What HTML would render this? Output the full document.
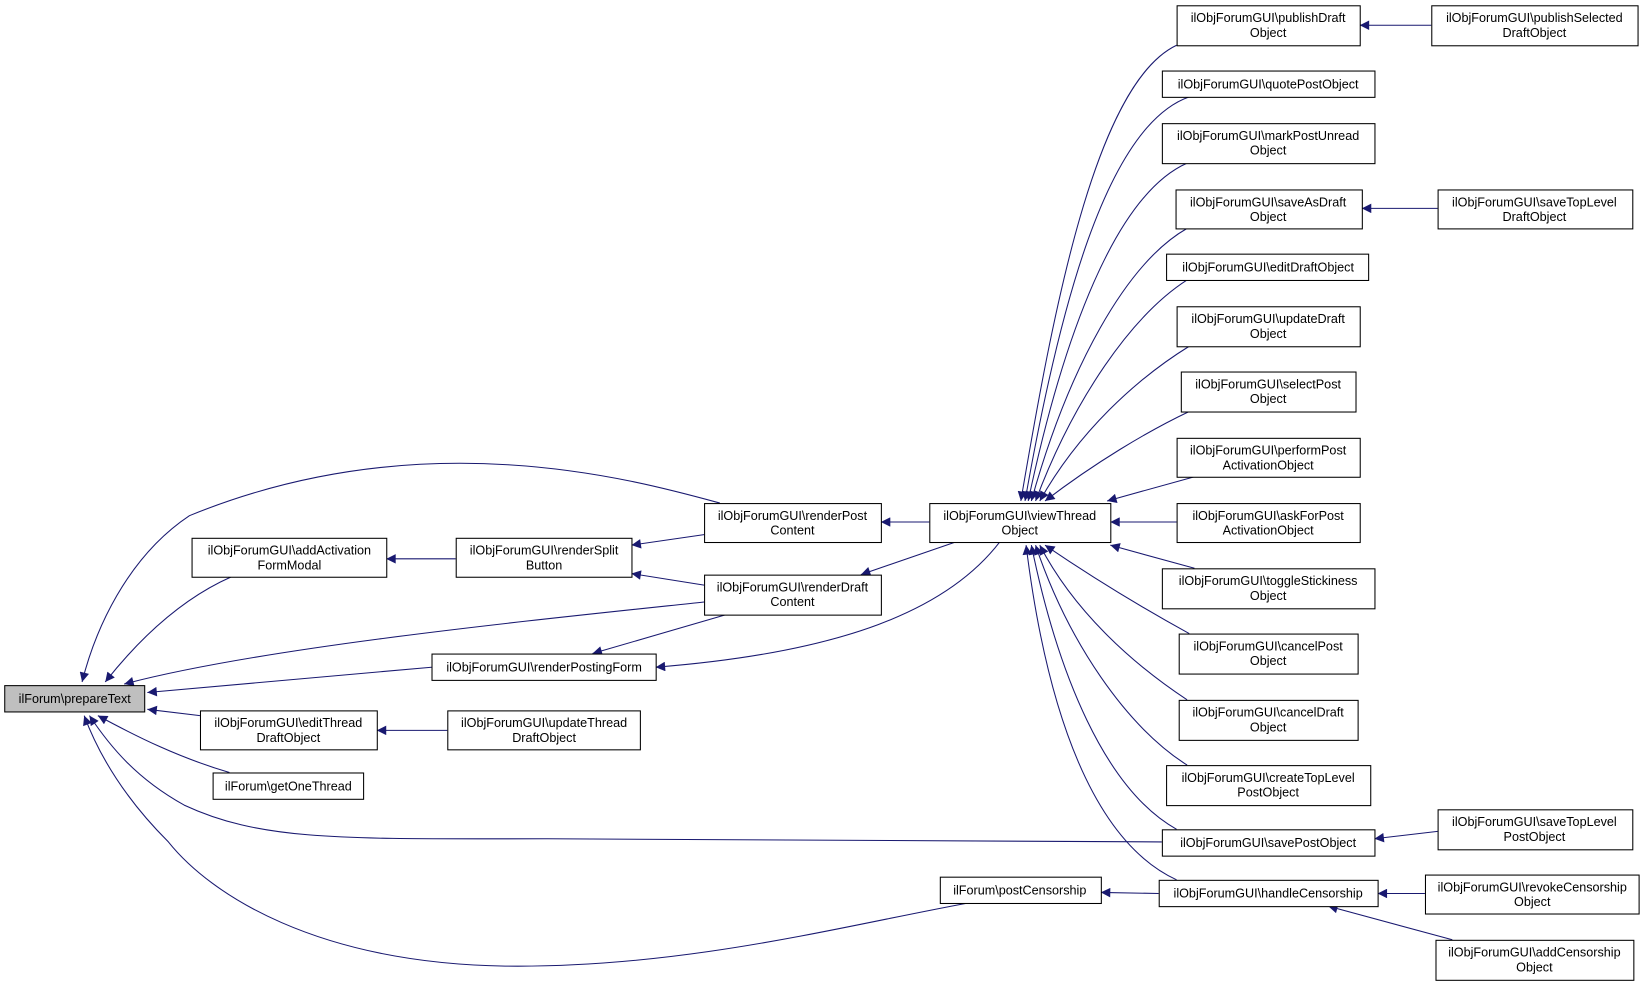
<!DOCTYPE html>
<html><head><meta charset="utf-8"><style>
html,body{margin:0;padding:0;background:#fff;}
svg text{font-family:"Liberation Sans",Arial,sans-serif;font-size:12px;text-anchor:middle;fill:#000;}
</style></head><body>
<svg width="1647" height="984" viewBox="0 0 1565 935" xmlns="http://www.w3.org/2000/svg">
<defs><marker id="a" viewBox="0 0 10 10" refX="10" refY="5" markerWidth="11" markerHeight="9" markerUnits="userSpaceOnUse" orient="auto"><path d="M0,0 L10,5 L0,10 z" fill="#191970"/></marker></defs>
<g fill="none" stroke="#191970" stroke-width="1" marker-end="url(#a)">
<path d="M684,478 C600,455 400,400 180,490 C120,530 90,600 78,648"/>
<path d="M220,548 C170,570 130,610 100,648"/>
<path d="M669,572 C500,590 250,615 118,650"/>
<path d="M410,634 L140,658"/>
<path d="M190,680 L140,674"/>
<path d="M218,734 C170,720 130,700 93,680"/>
<path d="M1104,800 L520,797 C330,797 250,800 175,765 C130,740 105,710 85,680"/>
<path d="M920,858 C800,880 650,920 480,918 C300,915 200,850 160,800 C120,760 95,720 80,680"/>
<path d="M433,531 L367,531"/>
<path d="M425,694 L358,694"/>
<path d="M669,508 L600,518"/>
<path d="M669,556 L600,545"/>
<path d="M690,584 L563,621"/>
<path d="M883,496 L837,496"/>
<path d="M908,515 L818,546"/>
<path d="M950,515 C900,580 800,620 623,634"/>
<path d="M1118,43 C1040,80 1000,300 970,476"/>
<path d="M1130,92 C1050,120 1005,300 974,476"/>
<path d="M1128,155 C1060,185 1010,320 977,476"/>
<path d="M1128,217 C1070,250 1015,350 980,476"/>
<path d="M1128,266 C1075,300 1020,380 984,476"/>
<path d="M1130,329 C1080,360 1025,410 988,476"/>
<path d="M1130,391 C1090,410 1040,440 993,476"/>
<path d="M1135,453 L1052,476"/>
<path d="M1118,496 L1055,496"/>
<path d="M1135,540 L1055,518"/>
<path d="M1130,602 C1090,580 1040,550 993,518"/>
<path d="M1128,665 C1075,630 1020,580 988,518"/>
<path d="M1128,727 C1070,690 1015,610 984,518"/>
<path d="M1118,788 C1050,750 1005,640 980,518"/>
<path d="M1118,836 C1040,800 995,680 975,518"/>
<path d="M1360,24 L1292,24"/>
<path d="M1366,198 L1294,198"/>
<path d="M1366,790 L1306,797"/>
<path d="M1354,849 L1309,849"/>
<path d="M1380,893 L1262,861"/>
<path d="M1101,849 L1046,848"/>
</g>
<g stroke="#000" stroke-width="1" fill="#fff">
<rect x="4.5" y="651.5" width="133" height="25" fill="#bfbfbf"/>
<rect x="182.5" y="511.5" width="185" height="37"/>
<rect x="433.5" y="511.5" width="167" height="37"/>
<rect x="410.5" y="621.5" width="213" height="25"/>
<rect x="190.5" y="675.5" width="168" height="37"/>
<rect x="425.5" y="675.5" width="183" height="37"/>
<rect x="202.5" y="734.5" width="143" height="25"/>
<rect x="669.5" y="478.5" width="168" height="37"/>
<rect x="669.5" y="546.5" width="168" height="38"/>
<rect x="883.5" y="478.5" width="172" height="37"/>
<rect x="893.5" y="833.5" width="153" height="25"/>
<rect x="1118.5" y="5.5" width="174" height="38"/>
<rect x="1104.5" y="67.5" width="202" height="25"/>
<rect x="1104.5" y="117.5" width="202" height="38"/>
<rect x="1117.5" y="180.5" width="177" height="37"/>
<rect x="1108.5" y="241.5" width="192" height="25"/>
<rect x="1118.5" y="291.5" width="174" height="38"/>
<rect x="1122.5" y="353.5" width="166" height="38"/>
<rect x="1118.5" y="416.5" width="174" height="37"/>
<rect x="1118.5" y="478.5" width="174" height="37"/>
<rect x="1104.5" y="540.5" width="202" height="38"/>
<rect x="1120.5" y="602.5" width="170" height="38"/>
<rect x="1120.5" y="665.5" width="170" height="38"/>
<rect x="1108.5" y="727.5" width="194" height="38"/>
<rect x="1104.5" y="788.5" width="202" height="25"/>
<rect x="1101.5" y="836.5" width="208" height="25"/>
<rect x="1360.5" y="5.5" width="196" height="38"/>
<rect x="1366.5" y="180.5" width="185" height="37"/>
<rect x="1366.5" y="769.5" width="185" height="38"/>
<rect x="1354.5" y="831.5" width="203" height="37"/>
<rect x="1364.5" y="893.5" width="188" height="38"/>
</g>
<g>
<text x="71" y="668">ilForum\prepareText</text>
<text x="275" y="527">ilObjForumGUI\addActivation</text><text x="275" y="541">FormModal</text>
<text x="517" y="527">ilObjForumGUI\renderSplit</text><text x="517" y="541">Button</text>
<text x="517" y="638">ilObjForumGUI\renderPostingForm</text>
<text x="274" y="691">ilObjForumGUI\editThread</text><text x="274" y="705">DraftObject</text>
<text x="517" y="691">ilObjForumGUI\updateThread</text><text x="517" y="705">DraftObject</text>
<text x="274" y="751">ilForum\getOneThread</text>
<text x="753" y="494">ilObjForumGUI\renderPost</text><text x="753" y="508">Content</text>
<text x="753" y="562">ilObjForumGUI\renderDraft</text><text x="753" y="576">Content</text>
<text x="969" y="494">ilObjForumGUI\viewThread</text><text x="969" y="508">Object</text>
<text x="969" y="850">ilForum\postCensorship</text>
<text x="1205" y="21">ilObjForumGUI\publishDraft</text><text x="1205" y="35">Object</text>
<text x="1205" y="84">ilObjForumGUI\quotePostObject</text>
<text x="1205" y="133">ilObjForumGUI\markPostUnread</text><text x="1205" y="147">Object</text>
<text x="1205" y="196">ilObjForumGUI\saveAsDraft</text><text x="1205" y="210">Object</text>
<text x="1205" y="258">ilObjForumGUI\editDraftObject</text>
<text x="1205" y="307">ilObjForumGUI\updateDraft</text><text x="1205" y="321">Object</text>
<text x="1205" y="369">ilObjForumGUI\selectPost</text><text x="1205" y="383">Object</text>
<text x="1205" y="432">ilObjForumGUI\performPost</text><text x="1205" y="446">ActivationObject</text>
<text x="1205" y="494">ilObjForumGUI\askForPost</text><text x="1205" y="508">ActivationObject</text>
<text x="1205" y="556">ilObjForumGUI\toggleStickiness</text><text x="1205" y="570">Object</text>
<text x="1205" y="618">ilObjForumGUI\cancelPost</text><text x="1205" y="632">Object</text>
<text x="1205" y="681">ilObjForumGUI\cancelDraft</text><text x="1205" y="695">Object</text>
<text x="1205" y="743">ilObjForumGUI\createTopLevel</text><text x="1205" y="757">PostObject</text>
<text x="1205" y="805">ilObjForumGUI\savePostObject</text>
<text x="1205" y="853">ilObjForumGUI\handleCensorship</text>
<text x="1458" y="21">ilObjForumGUI\publishSelected</text><text x="1458" y="35">DraftObject</text>
<text x="1458" y="196">ilObjForumGUI\saveTopLevel</text><text x="1458" y="210">DraftObject</text>
<text x="1458" y="785">ilObjForumGUI\saveTopLevel</text><text x="1458" y="799">PostObject</text>
<text x="1456" y="847">ilObjForumGUI\revokeCensorship</text><text x="1456" y="861">Object</text>
<text x="1458" y="909">ilObjForumGUI\addCensorship</text><text x="1458" y="923">Object</text>
</g>
</svg>
</body></html>
